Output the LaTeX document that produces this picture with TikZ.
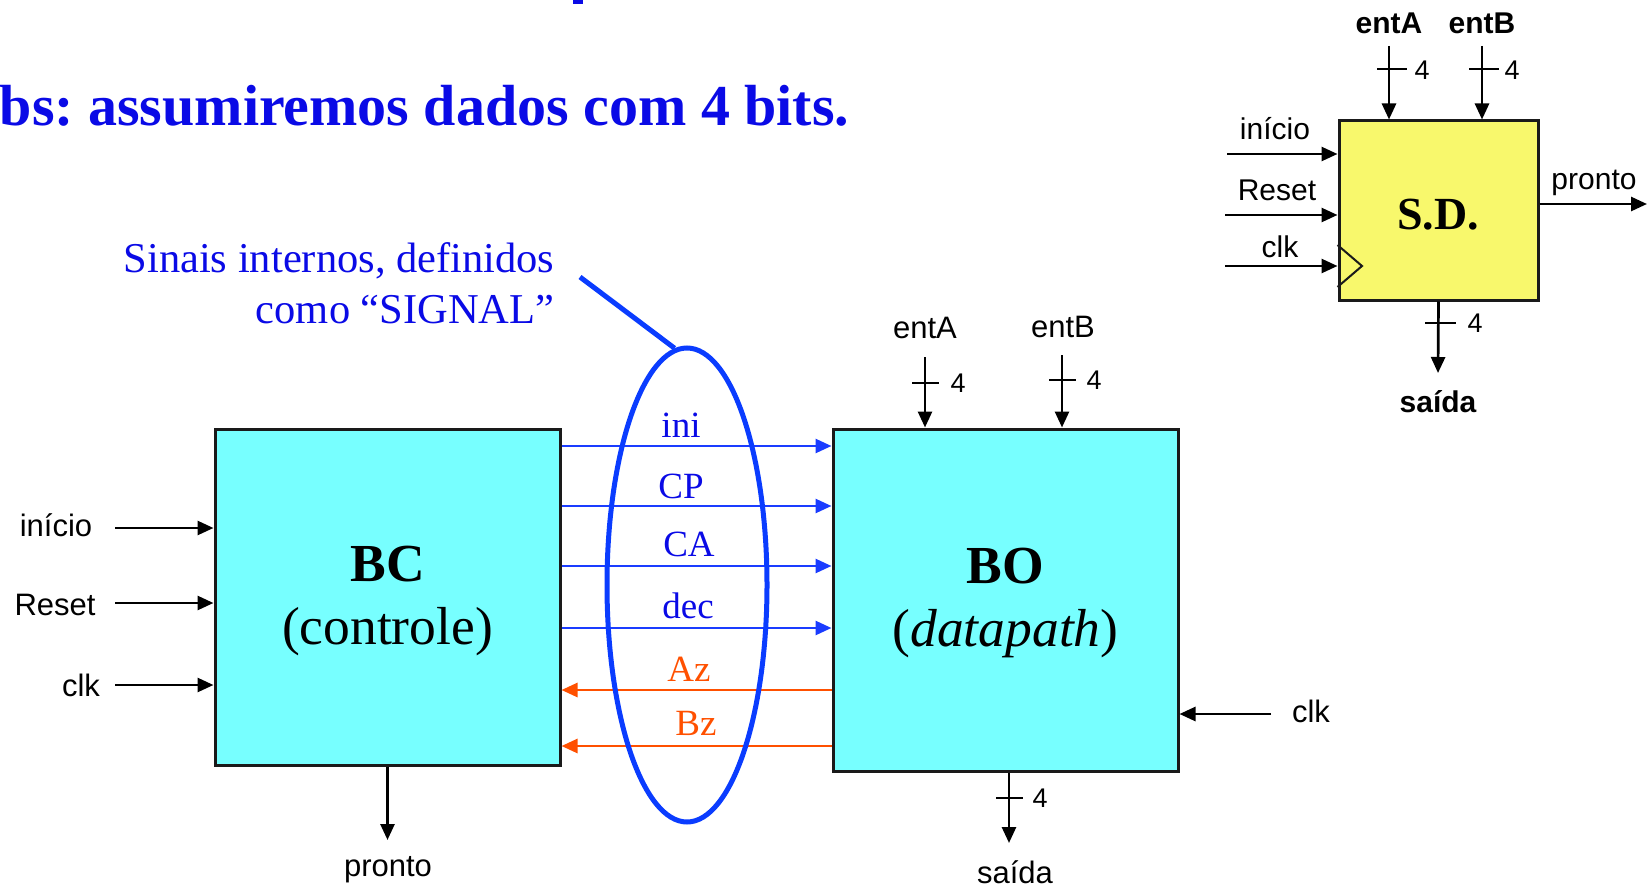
\documentclass[tikz,border=0pt]{standalone}
\usepackage{fontspec}
\setmainfont{Liberation Serif}
\setsansfont{Liberation Sans}
\usetikzlibrary{arrows.meta, shapes.geometric}
\definecolor{boxcyan}{HTML}{77FFFF}
\definecolor{sdyellow}{HTML}{F8F86C}
\definecolor{titleblue}{HTML}{0A0AE6}
\definecolor{sigblue}{HTML}{1A3CFF}
\definecolor{ringblue}{HTML}{0A3CFF}
\definecolor{sigorange}{HTML}{FF5000}
\definecolor{jet}{HTML}{1A1A1A}
\frenchspacing

\begin{document}
\begin{tikzpicture}[x=1pt, y=-1pt,
    wire/.style={line width=2.7pt, color=black, -{Triangle[length=16pt, width=14pt]}},
    tick/.style={line width=2.5pt, color=black},
    lbl/.style={font=\sffamily\fontsize{31}{36}\selectfont},
    blbl/.style={font=\sffamily\bfseries\fontsize{30}{36}\selectfont},
    width4/.style={font=\sffamily\fontsize{27}{30}\selectfont},
    block/.style={draw=jet, line width=3pt, fill=boxcyan},
    blocktext/.style={align=center, font=\fontsize{53.5}{63}\selectfont},
    siglbl/.style={font=\fontsize{37}{40}\selectfont}]
    \useasboundingbox (0,0) rectangle (1647,888);

    % title
    \node[anchor=base east, text=titleblue,
      font=\bfseries\fontsize{58}{60}\selectfont] (obs) at (853,126)
      {bs: assumiremos dados com 4 bits.};
    \fill[titleblue] (573,0) rectangle (583,4);

    % BC and BO
    \node[block, minimum width=345pt, minimum height=336pt] (BC) at (387.5,597) {};
    \node[blocktext] (BCtext) at (387.5,601) {\textbf{BC}\\(controle)};
    \node[block, minimum width=345pt, minimum height=342pt] (BO) at (1005.5,600) {};
    \node[blocktext] (BOtext) at (1005.5,603) {\textbf{BO}\\(\textit{datapath})};

    % BC inputs and output
    \node[lbl] (inicio) at (56,525) {início};
    \node[lbl] (reset) at (55,605) {Reset};
    \node[lbl] (clkA) at (81,685) {clk};
    \draw[wire] (115,528) -- (BC.west |- 0,528);
    \draw[wire] (115,603) -- (BC.west |- 0,603);
    \draw[wire] (115,685) -- (BC.west |- 0,685);
    \node[lbl] (pronto) at (388,870) {pronto};
    \draw[wire] (BC.south) -- (BC.south |- 0,840);

    % internal signals
    \foreach \y in {446, 506, 566, 628}
      \draw[wire, color=sigblue] (BC.east |- 0,\y) -- (BO.west |- 0,\y);
    \foreach \y in {690, 746}
      \draw[wire, color=sigorange] (BO.west |- 0,\y) -- (BC.east |- 0,\y);
    \node[siglbl, text=titleblue] (ini) at (681,425) {ini};
    \node[siglbl, text=titleblue] (CP) at (681,486) {CP};
    \node[siglbl, text=titleblue] (CA) at (689,544) {CA};
    \node[siglbl, text=titleblue] (dec) at (688,606) {dec};
    \node[siglbl, text=sigorange] (Az) at (689,669) {Az};
    \node[siglbl, text=sigorange] (Bz) at (696,723) {Bz};

    \node[ellipse, draw=ringblue, line width=5pt, minimum width=160pt,
      minimum height=474pt] (ring) at (687,585) {};
    \node[anchor=east, align=right, text=titleblue,
      font=\fontsize{42.5}{51}\selectfont] (note) at (558,283)
      {Sinais internos, definidos\\como “SIGNAL”};
    \coordinate (noteTip) at (580,277);
    \draw[ringblue, line width=5pt] (noteTip) -- (ring.93);

    % BO inputs and output
    \node[lbl] (entA) at (925,328) {entA};
    \node[lbl] (entB) at (1063,327) {entB};
    \draw[wire] (925,357) -- (BO.north -| 925,0);
    \draw[wire] (1062,355) -- (BO.north -| 1062,0);
    \draw[tick] (912,383) -- (939,383);
    \draw[tick] (1049,380) -- (1076,380);
    \node[width4] at (958,383) {4};
    \node[width4] at (1094,380) {4};
    \node[lbl] (clkB) at (1311,711) {clk};
    \draw[wire] (1271,714) -- (BO.east |- 0,714);
    \draw[wire] (BO.south -| 1009,0) -- (1009,843);
    \draw[tick] (996,798) -- (1023,798);
    \node[width4] at (1040,798) {4};
    \node[lbl] (saida) at (1015,872) {saída};

    % S.D. block
    \node[draw=jet, line width=3pt, fill=sdyellow, minimum width=199pt,
      minimum height=179pt] (SD) at (1438.5,210.5) {};
    \node[font=\bfseries\fontsize{46}{50}\selectfont] (SDtext) at (1438,215) {S.D.};
    \draw[line width=2pt, color=jet] (SD.west |- 0,245) -- (1362,266)
      -- (SD.west |- 0,287);
    \node[lbl, font=\sffamily\fontsize{30}{36}\selectfont] at (1275,129) {início};
    \node[lbl, font=\sffamily\fontsize{30}{36}\selectfont] at (1277,190) {Reset};
    \node[lbl, font=\sffamily\fontsize{30}{36}\selectfont] at (1280,247) {clk};
    \draw[wire] (1227,154) -- (SD.west |- 0,154);
    \draw[wire] (1225,215) -- (SD.west |- 0,215);
    \draw[wire] (1225,266) -- (SD.west |- 0,266);
    \node[lbl, font=\sffamily\fontsize{30}{36}\selectfont] at (1594,183) {pronto};
    \draw[wire] (SD.east |- 0,204) -- (1647,204);
    \node[blbl] at (1389,23) {entA};
    \node[blbl] at (1482,23) {entB};
    \draw[wire] (1389,46) -- (SD.north -| 1389,0);
    \draw[wire] (1482,46) -- (SD.north -| 1482,0);
    \draw[tick] (1377,69) -- (1407,69);
    \draw[tick] (1469,69) -- (1499,69);
    \node[width4] at (1422,70) {4};
    \node[width4] at (1512,70) {4};
    \draw[wire] (SD.south) -- (1438,373);
    \draw[tick] (1425,323) -- (1456,323);
    \node[width4] at (1475,323) {4};
    \node[blbl] at (1438,402) {saída};
\end{tikzpicture}
\end{document}
